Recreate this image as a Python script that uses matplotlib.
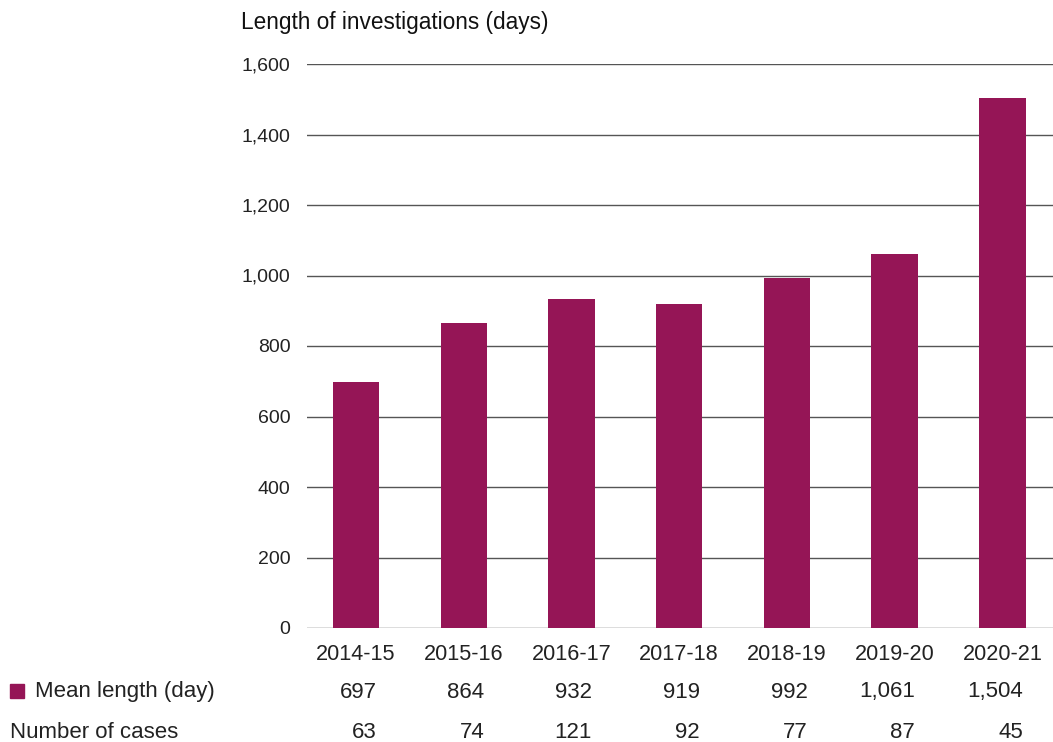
import matplotlib.pyplot as plt
from matplotlib import transforms
from matplotlib.patches import Rectangle

years = ["2014-15", "2015-16", "2016-17", "2017-18", "2018-19", "2019-20", "2020-21"]
mean_length = [697, 864, 932, 919, 992, 1061, 1504]
num_cases = [63, 74, 121, 92, 77, 87, 45]

BAR_COLOR = "#951556"
TEXT_COLOR = "#222222"

plt.rcParams["font.family"] = ["Liberation Sans", "DejaVu Sans"]

fig = plt.figure(figsize=(10.53, 7.42), dpi=100)
ax = fig.add_axes([307 / 1053, 1 - 628 / 742, 1 - 307 / 1053, (628 - 64) / 742])

x = list(range(len(years)))
ax.bar(x, mean_length, width=0.43, color=BAR_COLOR, zorder=3)

ax.set_ylim(0, 1600)
ax.set_xlim(-0.455, 6.47)
ax.set_yticks(range(0, 1601, 200))
ax.set_yticklabels([f"{v:,}" for v in range(0, 1601, 200)])
ax.yaxis.grid(True, color="#555555", linewidth=1.0, zorder=0)
ax.tick_params(axis="y", length=0, pad=12, labelsize=14, labelcolor=TEXT_COLOR)
ax.set_xticks([])
for s in ax.spines.values():
    s.set_visible(False)

ax.text(241 / 1053, 1 - 23 / 742, "Length of investigations (days)",
        transform=fig.transFigure, fontsize=16.3, color="#111111", va="center", ha="left")

# table rows under the bars
trans = transforms.blended_transform_factory(ax.transData, fig.transFigure)
row_y = [1 - 655 / 742, 1 - 692 / 742, 1 - 732 / 742]
for i in x:
    ax.text(i, row_y[0], years[i], transform=trans, ha="center", va="center",
            fontsize=15.6, color=TEXT_COLOR)
    ax.text(i + 0.19, row_y[1], f"{mean_length[i]:,}", transform=trans, ha="right",
            va="center", fontsize=16, color=TEXT_COLOR)
    ax.text(i + 0.19, row_y[2], f"{num_cases[i]}", transform=trans, ha="right",
            va="center", fontsize=16, color=TEXT_COLOR)

fig.patches.append(Rectangle((10 / 1053, 1 - 698 / 742), 14 / 1053, 14 / 742,
                             transform=fig.transFigure, color=BAR_COLOR))
fig.text(35 / 1053, row_y[1], "Mean length (day)", ha="left", va="center",
         fontsize=16, color=TEXT_COLOR)
fig.text(10 / 1053, row_y[2], "Number of cases", ha="left", va="center",
         fontsize=16, color=TEXT_COLOR)

fig.savefig("out.png", dpi=100)
